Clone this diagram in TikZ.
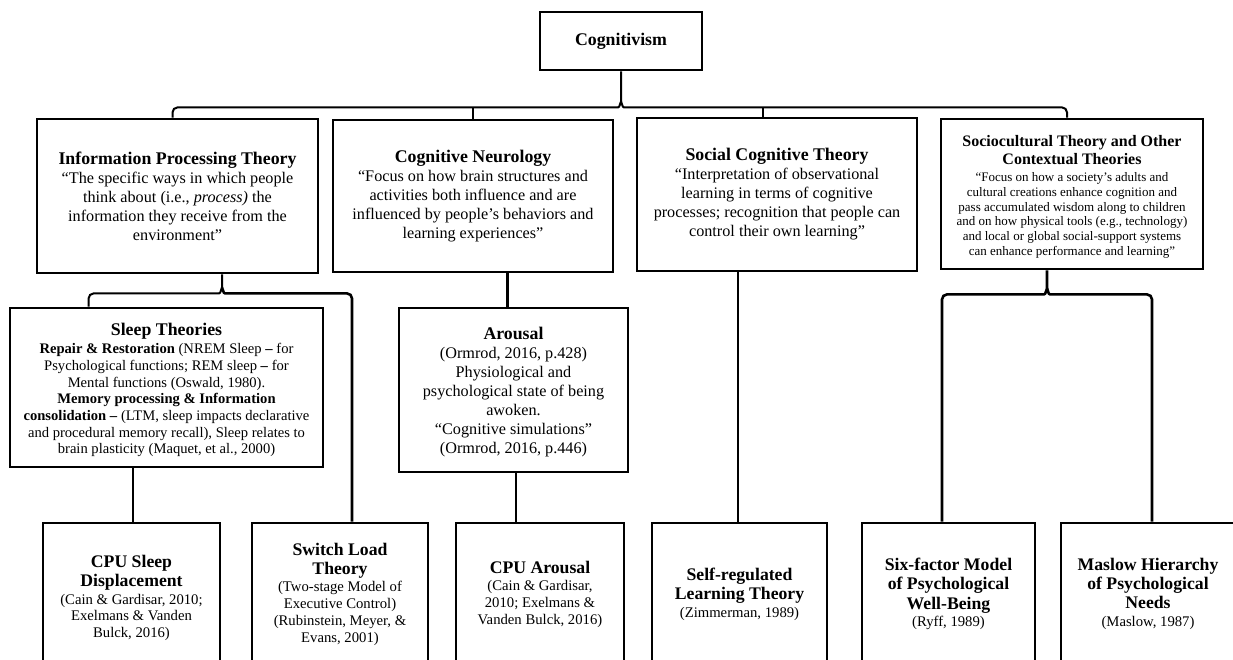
\documentclass[tikz,border=0pt]{standalone}
\usepackage{fontspec}
\setmainfont{Liberation Serif}
\usetikzlibrary{calc}

\newcommand{\hd}[1]{{\bfseries\fontsize{17.8}{19}\selectfont #1}}
\newcommand{\smallhd}[1]{{\bfseries\fontsize{16}{19}\selectfont #1}}
\newcommand{\leafhd}[1]{{\bfseries\fontsize{17.7}{20}\selectfont #1}}

\begin{document}
\begin{tikzpicture}[
    x=1pt, y=-1pt,
    box/.style={draw, line width=2.8pt, align=center, inner sep=0pt, font=\fontsize{16.2}{19}\selectfont},
    leaf/.style={box, minimum height=142pt, font=\fontsize{14.7}{16.7}\selectfont},
    link/.style={line width=2.6pt},
    brace/.style={line width=2pt, rounded corners=5pt},
]
    \useasboundingbox (0,0) rectangle (1233,659);
    \clip (0,0) rectangle (1233,659);

    % root
    \node[box, minimum width=162pt, minimum height=58pt] (cog) at (621,41) {\hd{Cognitivism}};

    % first level
    \node[box, minimum width=281pt, minimum height=154pt] (ip) at (177.5,196)
        {\hd{Information Processing Theory}\\
         “The specific ways in which people\\
         think about (i.e., \textit{process)} the\\
         information they receive from the\\
         environment”};
    \node[box, minimum width=280pt, minimum height=152pt] (cn) at (473,196)
        {\hd{Cognitive Neurology}\\
         “Focus on how brain structures and\\
         activities both influence and are\\
         influenced by people’s behaviors and\\
         learning experiences”};
    \node[box, minimum width=280pt, minimum height=153pt] (sc) at (777,194.5)
        {\hd{Social Cognitive Theory}\\
         “Interpretation of observational\\
         learning in terms of cognitive\\
         processes; recognition that people can\\
         control their own learning”};
    \node[box, minimum width=262pt, minimum height=150pt, font=\fontsize{13}{14.9}\selectfont] (scx) at (1072,194)
        {\rule{0pt}{17pt}\smallhd{Sociocultural Theory and Other}\\[3pt]
         \smallhd{Contextual Theories}\\[2pt]
         “Focus on how a society’s adults and\\
         cultural creations enhance cognition and\\
         pass accumulated wisdom along to children\\
         and on how physical tools (e.g., technology)\\
         and local or global social-support systems\\
         can enhance performance and learning”};

    % second level
    \node[box, minimum width=313pt, minimum height=159pt, font=\fontsize{14.6}{16.7}\selectfont] (sleep) at (166.5,387.5)
        {\rule{0pt}{18pt}\hd{Sleep Theories}\\[1pt]
         \textbf{Repair \& Restoration} (NREM Sleep \textbf{--} for\\
         Psychological functions; REM sleep \textbf{--} for\\
         Mental functions (Oswald, 1980).\\
         \textbf{Memory processing \& Information}\\
         \textbf{consolidation --} (LTM, sleep impacts declarative\\
         and procedural memory recall), Sleep relates to\\
         brain plasticity (Maquet, et al., 2000)};
    \node[box, minimum width=229pt, minimum height=164pt] (arousal) at (513.5,390)
        {\rule{0pt}{17pt}\hd{Arousal}\\
         (Ormrod, 2016, p.428)\\
         Physiological and\\
         psychological state of being\\
         awoken.\\
         “Cognitive simulations”\\
         (Ormrod, 2016, p.446)};

    % leaves
    \node[leaf, minimum width=177pt] (cpusleep) at (131.5,594)
        {\rule{0pt}{20pt}\leafhd{CPU Sleep}\\[2.5pt] \leafhd{Displacement}\\[1pt]
         (Cain \& Gardisar, 2010;\\ Exelmans \& Vanden\\ Bulck, 2016)};
    \node[leaf, minimum width=176pt] (switch) at (340,594)
        {\leafhd{Switch Load}\\[2.5pt] \leafhd{Theory}\\[1pt]
         (Two-stage Model of\\ Executive Control)\\ (Rubinstein, Meyer, \&\\ Evans, 2001)};
    \node[leaf, minimum width=168pt] (cpuar) at (540,594)
        {\leafhd{CPU Arousal}\\[1pt]
         (Cain \& Gardisar,\\ 2010; Exelmans \&\\ Vanden Bulck, 2016)};
    \node[leaf, minimum width=175pt] (selfreg) at (739.5,594)
        {\leafhd{Self-regulated}\\[2.5pt] \leafhd{Learning Theory}\\[1pt]
         (Zimmerman, 1989)};
    \node[leaf, minimum width=173pt] (sixf) at (948.5,594)
        {\leafhd{Six-factor Model}\\[2.5pt] \leafhd{of Psychological}\\[2.5pt] \leafhd{Well-Being}\\[1pt]
         (Ryff, 1989)};
    \node[leaf, minimum width=174pt] (maslow) at (1148,594)
        {\leafhd{Maslow Hierarchy}\\[2.5pt] \leafhd{of Psychological}\\[2.5pt] \leafhd{Needs}\\[1pt]
         (Maslow, 1987)};

    % top brace
    \coordinate (bar) at ($(cog.south)+(0,36)$);
    \draw[brace] ($(ip.north)+(-5,0)$) |- ($(bar)+(-8,0)$) [sharp corners]
        .. controls ($(bar)+(-2,0)$) .. ($(bar)+(0,-6)$) -- (cog.south);
    \draw[brace] ($(scx.north)+(-5,0)$) |- ($(bar)+(8,0)$) [sharp corners]
        .. controls ($(bar)+(2,0)$) .. ($(bar)+(0,-6)$);
    \draw[brace] (cn.north) -- (cn.north |- bar);
    \draw[brace] ($(sc.north)+(-14,0)$) -- ($(sc.north |- bar)+(-14,0)$);

    % brace under information processing
    \coordinate (ipbar) at ($(ip.south)+(44.5,19)$);
    \draw[brace] ($(sleep.north west)+(80,0)$) |- ($(ipbar)+(-8,0)$) [sharp corners]
        .. controls ($(ipbar)+(-2,0)$) .. ($(ipbar)+(0,-6)$) -- (ip.south -| ipbar);
    \draw[brace, line width=2.6pt] ($(switch.north)+(12,0)$) |- ($(ipbar)+(8,0)$) [sharp corners]
        .. controls ($(ipbar)+(2,0)$) .. ($(ipbar)+(0,-6)$);

    % brace under sociocultural
    \coordinate (scxbar) at ($(scx.south)+(-25,24)$);
    \draw[brace, line width=2.6pt] ($(sixf.north)+(-6.5,0)$) |- ($(scxbar)+(-8,0)$) [sharp corners]
        .. controls ($(scxbar)+(-2,0)$) .. ($(scxbar)+(0,-6)$) -- (scx.south -| scxbar);
    \draw[brace, line width=2.6pt] ($(maslow.north)+(4,0)$) |- ($(scxbar)+(8,0)$) [sharp corners]
        .. controls ($(scxbar)+(2,0)$) .. ($(scxbar)+(0,-6)$);

    % straight links
    \draw[link] ($(cn.south)+(34.5,0)$) -- ($(arousal.north)+(-6,0)$);
    \draw[link] ($(arousal.south)+(2.5,0)$) -- ($(cpuar.north)+(-24,0)$);
    \draw[link] ($(sleep.south)+(-33.5,0)$) -- ($(cpusleep.north)+(1.5,0)$);
    \draw[link] ($(sc.south)+(-39,0)$) -- ($(selfreg.north)+(-1.5,0)$);
\end{tikzpicture}
\end{document}
